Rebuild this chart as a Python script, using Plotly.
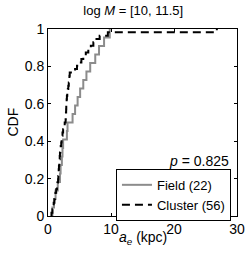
import plotly.graph_objects as go

# Sorted sample values (kpc)
field_ae = [0.7, 0.95, 1.2, 1.55, 1.9, 2.0, 2.2, 2.3, 2.4, 3.0, 3.1,
            3.9, 4.3, 4.7, 5.1, 5.6, 6.1, 6.7, 7.5, 8.1, 8.9, 9.8]
cluster_ae = [0.55, 0.7, 0.78, 0.9, 1.02, 1.1, 1.18, 1.3, 1.42, 1.5, 1.6,
              1.64, 1.68, 1.7, 1.74, 1.78, 1.82, 1.86, 1.9,
              1.96, 2.02, 2.1, 2.16, 2.22, 2.3,
              2.4, 2.52, 2.65, 2.8,
              2.82, 2.85, 2.88, 2.9, 2.93, 2.96, 3.0,
              3.06, 3.15, 3.22, 3.3,
              3.34, 3.4, 3.45,
              4.3, 4.6, 4.9, 5.3, 5.6, 6.0, 6.4, 6.8, 7.2, 7.5, 8.2, 9.5, 26.8]
field_name = "Field (22)"
cluster_name = "Cluster (56)"
title_text = "log <i>M</i> = [10, 11.5]"
p_text = "<i>p</i> = 0.825"
x_label = "<i>a</i><sub><i>e</i></sub> (kpc)"
y_label = "CDF"
x_ticks = [0, 10, 20, 30]
y_ticks = [0, 0.2, 0.4, 0.6, 0.8, 1]
y_ticklabels = ["0", "0.2", "0.4", "0.6", "0.8", "1"]


def ecdf(vals):
    n = len(vals)
    xs = [vals[0]] + list(vals)
    ys = [0.0] + [(i + 1) / n for i in range(n)]
    return xs, ys


fx, fy = ecdf(field_ae)
cx, cy = ecdf(cluster_ae)

FONT = "Liberation Sans, Arial, Helvetica, sans-serif"

fig = go.Figure()
fig.add_trace(go.Scatter(x=fx, y=fy, mode="lines", line_shape="hv",
                         name=field_name,
                         line=dict(color="#8c8c8c", width=2)))
fig.add_trace(go.Scatter(x=cx, y=cy, mode="lines", line_shape="hv",
                         name=cluster_name,
                         line=dict(color="black", width=2, dash="8px,5px")))

axis_common = dict(showgrid=False, zeroline=False, showline=True,
                   linecolor="black", linewidth=1, mirror="ticks",
                   ticks="inside", ticklen=3, tickcolor="black",
                   automargin=False,
                   tickfont=dict(family=FONT, size=14, color="black"))

fig.update_xaxes(range=[0, 30], tickvals=x_ticks, **axis_common)
fig.update_yaxes(range=[0, 1], tickvals=y_ticks, ticktext=y_ticklabels,
                 **axis_common)

fig.update_layout(
    width=249, height=255,
    margin=dict(l=48, r=12, t=29, b=39),
    paper_bgcolor="white", plot_bgcolor="white",
    title=dict(text=title_text, x=0.535, xanchor="center", y=0.975, yanchor="top",
               font=dict(family=FONT, size=13, color="black")),
    showlegend=True,
    legend=dict(x=0.968, xanchor="right", y=0.252, yanchor="top",
                bordercolor="black", borderwidth=1, bgcolor="white",
                font=dict(family=FONT, size=13, color="black"),
                tracegroupgap=0, itemwidth=30),
    annotations=[
        dict(text=p_text, xref="paper", yref="paper",
             x=0.968, y=0.294, xanchor="right", yanchor="middle",
             showarrow=False,
             font=dict(family=FONT, size=14, color="black")),
        dict(text=x_label, xref="paper", yref="paper",
             x=0.50, y=-0.118, xanchor="center", yanchor="middle",
             showarrow=False,
             font=dict(family=FONT, size=14, color="black")),
        dict(text=y_label, xref="paper", yref="paper",
             x=-0.19, y=0.5, xanchor="center", yanchor="middle",
             textangle=-90, showarrow=False,
             font=dict(family=FONT, size=14, color="black")),
    ],
)

fig.write_html("out.html", config={"displayModeBar": False},
               post_script="document.body.style.margin='0';document.body.style.overflow='hidden';")
